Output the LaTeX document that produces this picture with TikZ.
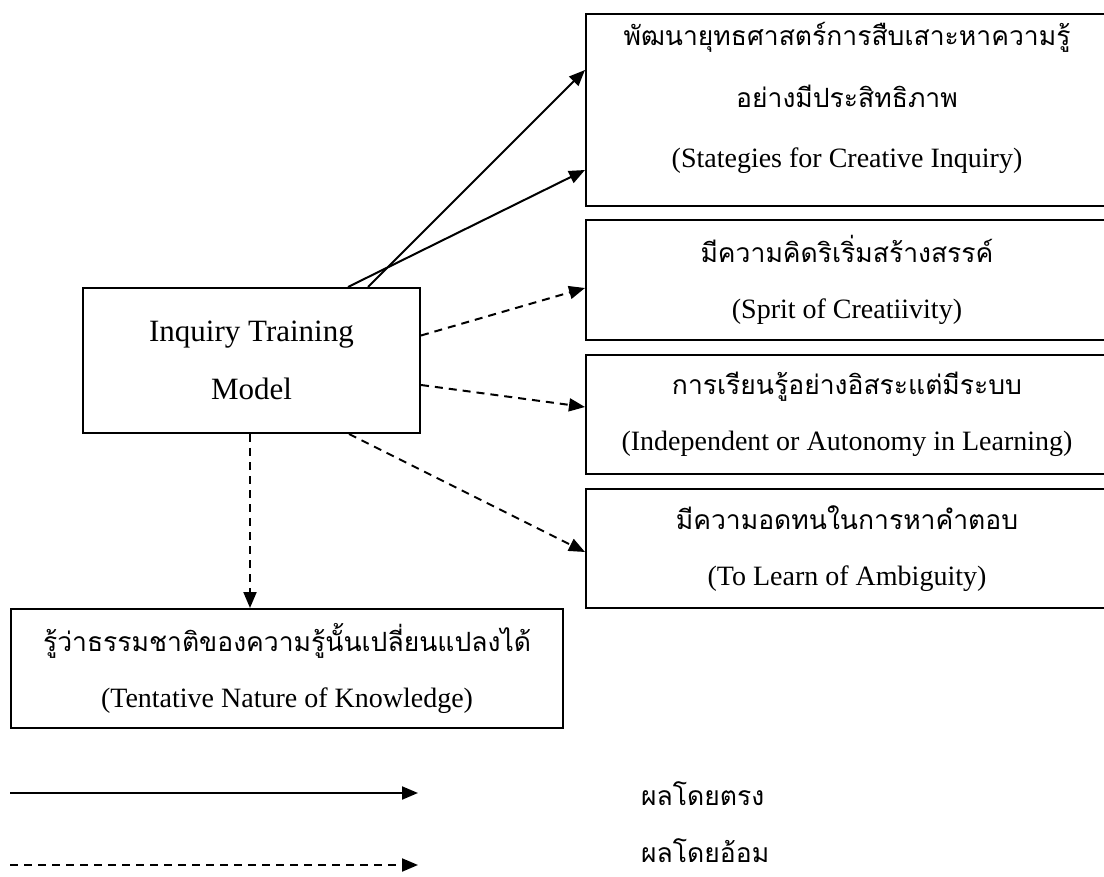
\documentclass[tikz,border=0pt]{standalone}
\usepackage{fontspec}
\setmainfont{Liberation Serif}
\newfontfamily\thaifont[Script=Thai]{Loma}
\usetikzlibrary{arrows.meta}
\newcommand{\thai}[1]{{\thaifont\fontsize{26.5}{56}\selectfont #1}}

\begin{document}
\begin{tikzpicture}[x=1pt,y=-1pt,
    box/.style={draw,line width=2pt,align=center,inner sep=0pt,font=\fontsize{28}{56}\selectfont},
    direct/.style={line width=2pt,-{Triangle[length=16pt,width=13pt]}},
    indirect/.style={direct,dash pattern=on 8pt off 6pt}]
    \clip (0,0) rectangle (1104,877);
    \node[box,minimum width=337pt,minimum height=145pt,font=\fontsize{31}{58}\selectfont] (model) at (251.5,360.5) {Inquiry Training\\Model};
    \node[box,minimum width=522pt,minimum height=192pt] (strat) at (847,110) {\thai{พัฒนายุทธศาสตร์การสืบเสาะหาความรู้}\\[6pt]\thai{อย่างมีประสิทธิภาพ}\\[4pt](Stategies for Creative Inquiry)\\[-26pt]};
    \node[box,minimum width=522pt,minimum height=120pt] (spirit) at (847,280) {\thai{มีความคิดริเริ่มสร้างสรรค์}\\(Sprit of Creatiivity)};
    \node[box,minimum width=522pt,minimum height=119pt] (indep) at (847,414.5) {\thai{การเรียนรู้อย่างอิสระแต่มีระบบ}\\(Independent or Autonomy in Learning)};
    \node[box,minimum width=522pt,minimum height=119pt] (ambig) at (847,548.5) {\thai{มีความอดทนในการหาคำตอบ}\\(To Learn of Ambiguity)};
    \node[box,minimum width=552pt,minimum height=119pt] (know) at (287,668.5) {\thai{รู้ว่าธรรมชาติของความรู้นั้นเปลี่ยนแปลงได้}\\(Tentative Nature of Knowledge)};

    \draw[direct] ([xshift=-53pt]model.north east) -- ([yshift=40pt]strat.west);
    \draw[direct] ([xshift=-73pt]model.north east) -- ([yshift=-60pt]strat.west);
    \draw[indirect] ([yshift=25pt]model.east) -- ([yshift=-8pt]spirit.west);
    \draw[indirect] ([yshift=-24.5pt]model.east) -- ([yshift=7.5pt]indep.west);
    \draw[indirect] ([xshift=-72pt]model.south east) -- ([yshift=-3.5pt]ambig.west);
    \draw[indirect] ([xshift=-1.5pt]model.south) -- ([xshift=-1.5pt]model.south |- know.north);

    \coordinate (d1) at (10,793);
    \coordinate (d2) at (418,793);
    \coordinate (i1) at (10,865);
    \coordinate (i2) at (418,865);
    \draw[direct] (d1) -- (d2);
    \draw[indirect] (i1) -- (i2);
    \node[anchor=west,inner sep=0pt,font=\fontsize{24}{28}\selectfont] (dlabel) at (641,794) {\thai{ผลโดยตรง}};
    \node[anchor=west,inner sep=0pt,font=\fontsize{24}{28}\selectfont] (ilabel) at (641,851) {\thai{ผลโดยอ้อม}};
\end{tikzpicture}
\end{document}
